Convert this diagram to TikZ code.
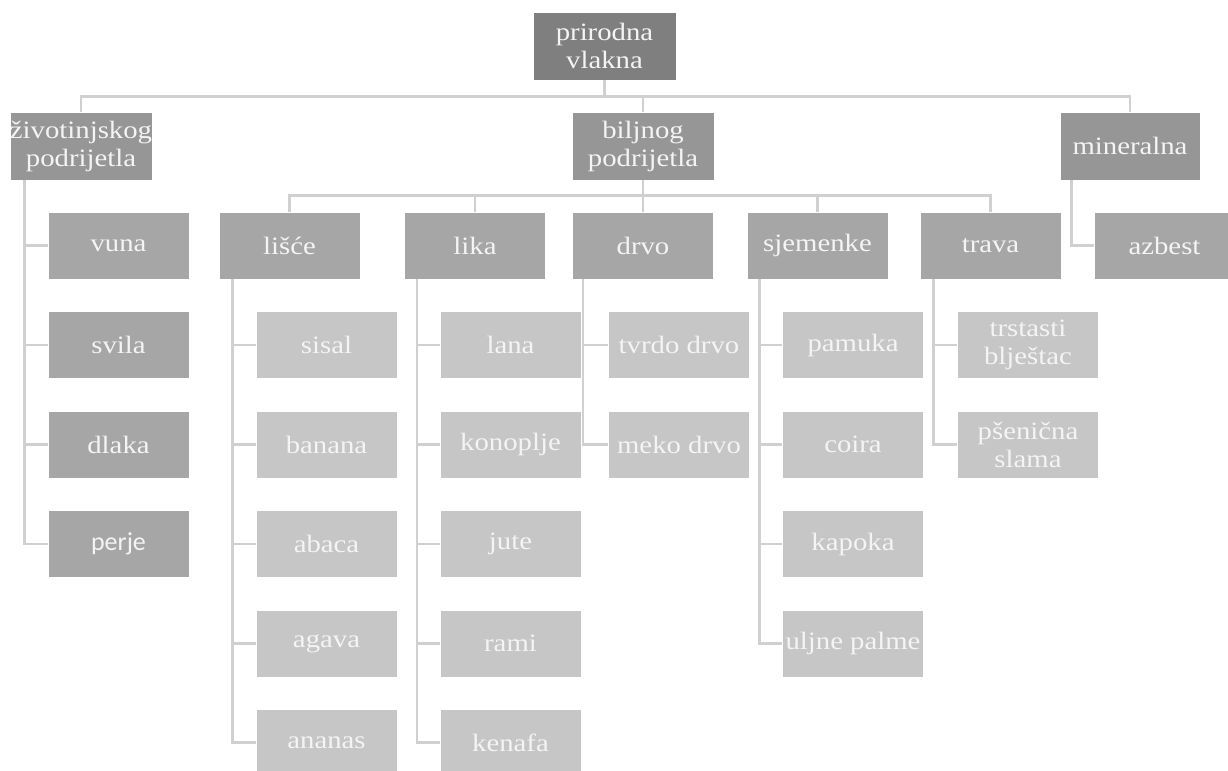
\documentclass[tikz,border=0pt]{standalone}
\usepackage{fontspec}
\setmainfont{Liberation Serif}[FakeStretch=1.15]
\newfontfamily\calib{Carlito}
\definecolor{c0}{HTML}{7F7F7F}
\definecolor{c1}{HTML}{969696}
\definecolor{c2}{HTML}{A6A6A6}
\definecolor{c3}{HTML}{C6C6C6}
\definecolor{ln}{HTML}{D0D0D0}
\definecolor{tx}{HTML}{F4F4F4}
\tikzset{
  box/.style={draw=white, line width=0.8bp, minimum width=141bp, minimum height=67bp, inner sep=0pt,
    text=tx, align=center, font=\fontsize{25bp}{28bp}\selectfont},
  b0/.style={box, fill=c0, minimum width=143bp, minimum height=68bp},
  b1/.style={box, fill=c1, minimum width=142bp, minimum height=68bp},
  b2/.style={box, fill=c2},
  b3/.style={box, fill=c3},
  conn/.style={draw=ln, line width=2.6bp}
}
\begin{document}
\begin{tikzpicture}[x=1bp, y=-1bp]
\useasboundingbox (0,0) rectangle (1228,771);
% level 0/1
\node[b0] (root) at (604.5,46) {prirodna\\vlakna};
\node[b1] (ziv) at (81,146) {životinjskog\\podrijetla};
\node[b1] (bilj) at (643,146) {biljnog\\podrijetla};
\node[b1, minimum width=140bp] (min) at (1130,146) {mineralna};
% level 2
\node[b2] (vuna) at (118.5,245.5) {vuna};
\node[b2] (svila) at (118.5,345) {svila};
\node[b2] (dlaka) at (118.5,444.5) {dlaka};
\node[b2, font=\calib\fontsize{26bp}{28bp}\selectfont] (perje) at (118.5,544) {perje};
\node[b2] (lisce) at (289.5,245.5) {lišće};
\node[b2] (lika) at (475,245.5) {lika};
\node[b2] (drvo) at (643,245.5) {drvo};
\node[b2] (sjem) at (817.5,245.5) {sjemenke};
\node[b2] (trava) at (990.5,245.5) {trava};
\node[b2] (azbest) at (1164.5,245.5) {azbest};
% level 3
\node[b3] (sisal) at (326.5,345) {sisal};
\node[b3] (banana) at (326.5,444.5) {banana};
\node[b3] (abaca) at (326.5,544) {abaca};
\node[b3] (agava) at (326.5,643.5) {agava};
\node[b3] (ananas) at (326.5,742.5) {ananas};
\node[b3] (lana) at (510.5,345) {lana};
\node[b3] (konoplje) at (510.5,444.5) {konoplje};
\node[b3] (jute) at (510.5,544) {jute};
\node[b3] (rami) at (510.5,643.5) {rami};
\node[b3] (kenafa) at (510.5,742.5) {kenafa};
\node[b3] (tvrdo) at (679,345) {tvrdo drvo};
\node[b3] (meko) at (679,444.5) {meko drvo};
\node[b3] (pamuka) at (853,345) {pamuka};
\node[b3] (coira) at (853,444.5) {coira};
\node[b3] (kapoka) at (853,544) {kapoka};
\node[b3] (uljne) at (853,643.5) {uljne palme};
\node[b3] (trstasti) at (1028,345) {trstasti\\blještac};
\node[b3] (psenicna) at (1028,444.5) {pšenična\\slama};
% connectors level 0 -> 1
\foreach \c in {ziv,bilj,min}
  \draw[conn] (root.south) -- ++(0,16) -| (\c.north);
% biljnog -> level 2
\foreach \c in {lisce,lika,drvo,sjem,trava}
  \draw[conn] (bilj.south) -- ++(0,15) -| (\c.north);
% vertical lists
\foreach \c in {vuna,svila,dlaka,perje}
  \draw[conn] ([xshift=15bp]ziv.south west) |- (\c.west);
\draw[conn] ([xshift=12bp]min.south west) |- (azbest.west);
\foreach \c in {sisal,banana,abaca,agava,ananas}
  \draw[conn] ([xshift=14bp]lisce.south west) |- (\c.west);
\foreach \c in {lana,konoplje,jute,rami,kenafa}
  \draw[conn] ([xshift=13bp]lika.south west) |- (\c.west);
\foreach \c in {tvrdo,meko}
  \draw[conn] ([xshift=11bp]drvo.south west) |- (\c.west);
\foreach \c in {pamuka,coira,kapoka,uljne}
  \draw[conn] ([xshift=13bp]sjem.south west) |- (\c.west);
\foreach \c in {trstasti,psenicna}
  \draw[conn] ([xshift=14bp]trava.south west) |- (\c.west);
\end{tikzpicture}
\end{document}
